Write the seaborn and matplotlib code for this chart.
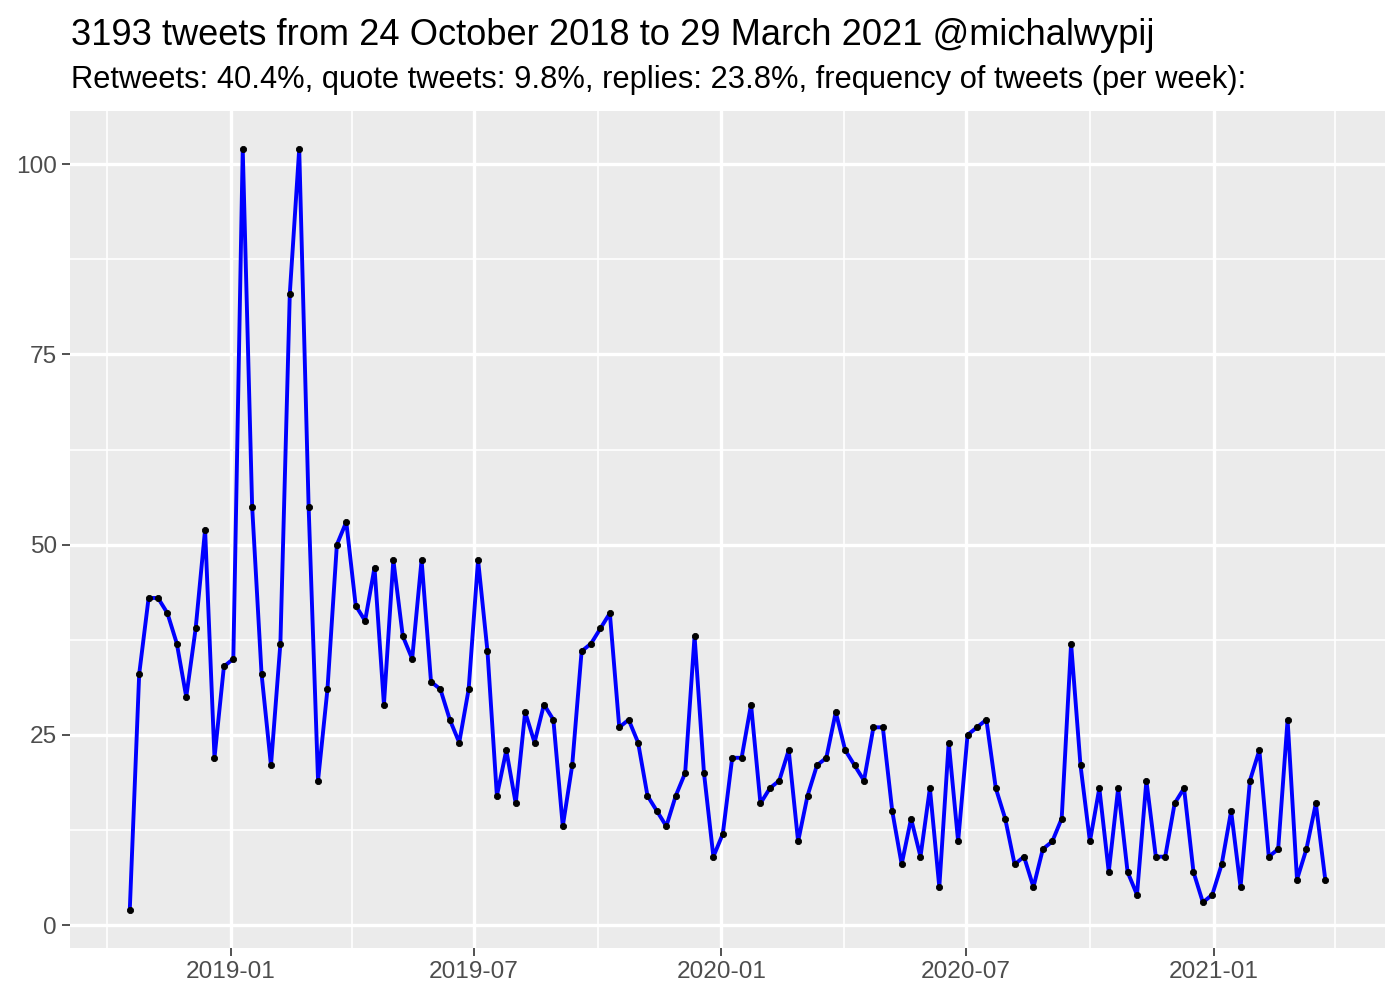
import pandas as pd
import numpy as np
import matplotlib
matplotlib.use("Agg")
import matplotlib.pyplot as plt
import matplotlib.dates as mdates
from matplotlib.ticker import FixedLocator
import seaborn as sns

# weekly tweet counts
first_week = "2018-10-18"
tweets = [2, 33, 43, 43, 41, 37, 30, 39, 52, 22, 34, 35, 102, 55, 33, 21, 37, 83, 102, 55,
          19, 31, 50, 53, 42, 40, 47, 29, 48, 38, 35, 48, 32, 31, 27, 24, 31, 48, 36, 17,
          23, 16, 28, 24, 29, 27, 13, 21, 36, 37, 39, 41, 26, 27, 24, 17, 15, 13, 17, 20,
          38, 20, 9, 12, 22, 22, 29, 16, 18, 19, 23, 11, 17, 21, 22, 28, 23, 21, 19, 26,
          26, 15, 8, 14, 9, 18, 5, 24, 11, 25, 26, 27, 18, 14, 8, 9, 5, 10, 11, 14,
          37, 21, 11, 18, 7, 18, 7, 4, 19, 9, 9, 16, 18, 7, 3, 4, 8, 15, 5, 19,
          23, 9, 10, 27, 6, 10, 16, 6]
weeks = pd.date_range(first_week, periods=len(tweets), freq="7D")
df = pd.DataFrame({"week": weeks, "n": tweets})

x_major = ["2019-01-01", "2019-07-01", "2020-01-01", "2020-07-01", "2021-01-01"]
x_minor = ["2018-10-01", "2019-04-01", "2019-10-01", "2020-04-01", "2020-10-01", "2021-04-01"]
y_major = [0, 25, 50, 75, 100]
y_minor = [12.5, 37.5, 62.5, 87.5]

title = "3193 tweets from 24 October 2018 to 29 March 2021 @michalwypij"
subtitle = "Retweets: 40.4%, quote tweets: 9.8%, replies: 23.8%, frequency of tweets (per week):"

sns.set_theme(style="darkgrid", rc={"axes.facecolor": "#EBEBEB"})
plt.rcParams["font.family"] = ["Liberation Sans", "DejaVu Sans"]

fig, ax = plt.subplots(figsize=(7, 5), dpi=200)
fig.subplots_adjust(left=0.05, right=0.9893, top=0.889, bottom=0.052)

sns.lineplot(data=df, x="week", y="n", color="#0000FF", linewidth=1.4, ax=ax, zorder=3)
sns.scatterplot(data=df, x="week", y="n", color="black", s=5, edgecolor="black",
                linewidth=0.3, ax=ax, zorder=4)

span = df["week"].max() - df["week"].min()
ax.set_xlim(df["week"].min() - 0.05 * span, df["week"].max() + 0.05 * span)
rng = max(tweets) - min(tweets)
ax.set_ylim(min(tweets) - 0.05 * rng, max(tweets) + 0.05 * rng)

ax.xaxis.set_major_locator(FixedLocator(mdates.date2num(pd.to_datetime(x_major))))
ax.xaxis.set_minor_locator(FixedLocator(mdates.date2num(pd.to_datetime(x_minor))))
ax.xaxis.set_major_formatter(mdates.DateFormatter("%Y-%m"))
ax.yaxis.set_major_locator(FixedLocator(y_major))
ax.yaxis.set_minor_locator(FixedLocator(y_minor))

ax.grid(which="major", color="white", linewidth=1.2)
ax.grid(which="minor", color="white", linewidth=0.6)
for s in ax.spines.values():
    s.set_visible(False)
ax.tick_params(which="major", length=2.75, width=0.6, color="#333333",
               labelsize=8.8, labelcolor="#4D4D4D", pad=2)
ax.tick_params(which="minor", length=0)
ax.tick_params(axis="x", bottom=True)
ax.tick_params(axis="y", left=True)
ax.set_xlabel("")
ax.set_ylabel("")

fig.text(0.051, 0.955, title, fontsize=13.05, color="black", va="baseline", ha="left")
fig.text(0.051, 0.912, subtitle, fontsize=11.14, color="black", va="baseline", ha="left")

fig.savefig("out.png", dpi=200)
